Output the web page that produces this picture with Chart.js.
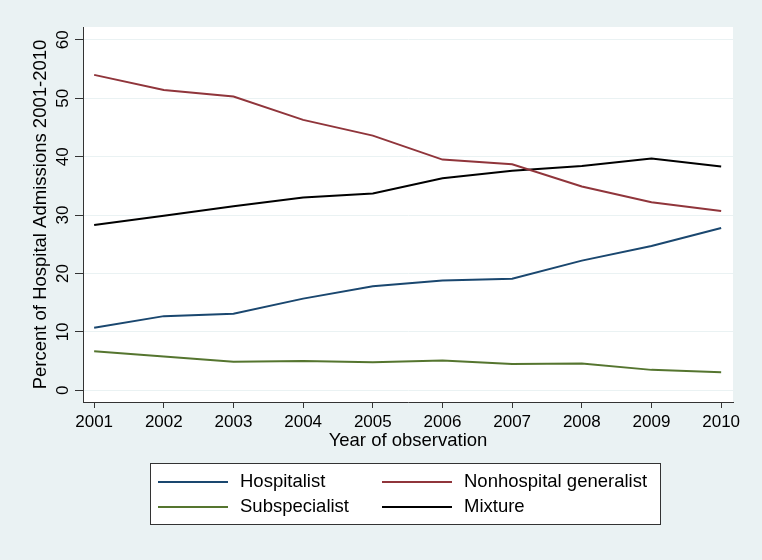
<!DOCTYPE html>
<html>
<head>
<meta charset="utf-8">
<title>Hospital admissions by physician type</title>
<script src="https://cdn.jsdelivr.net/npm/chart.js@4/dist/chart.umd.min.js"></script>
<style>
    html, body { margin: 0; padding: 0; background: #EAF2F3; }
    #wrap { width: 762px; height: 560px; }
</style>
</head>
<body>
<div id="wrap"><canvas id="myChart" width="762" height="560"></canvas></div>
<script>
var years = [2001, 2002, 2003, 2004, 2005, 2006, 2007, 2008, 2009, 2010];
var hospitalist = [10.7, 12.7, 13.1, 15.7, 17.8, 18.8, 19.1, 22.2, 24.7, 27.8];
var nonhospital = [54.0, 51.4, 50.3, 46.3, 43.6, 39.5, 38.7, 34.9, 32.2, 30.7];
var subspecialist = [6.7, 5.8, 4.9, 5.0, 4.8, 5.1, 4.5, 4.6, 3.5, 3.1];
var mixture = [28.3, 29.9, 31.5, 33.0, 33.7, 36.3, 37.6, 38.4, 39.7, 38.3];
var yTicks = [0, 10, 20, 30, 40, 50, 60];

var fontFamily = "'Liberation Sans', Arial, Helvetica, sans-serif";
Chart.defaults.font.family = fontFamily;
Chart.defaults.font.size = 17;
Chart.defaults.color = '#000';

// stata-ish background: grey-blue outside, white plot region
var backgroundPlugin = {
    id: 'stataBackground',
    beforeDraw: function (chart) {
        var ctx = chart.ctx;
        var a = chart.chartArea;
        ctx.save();
        ctx.fillStyle = '#EAF2F3';
        ctx.fillRect(0, 0, chart.width, chart.height);
        ctx.fillStyle = '#ffffff';
        ctx.fillRect(a.left, a.top, a.right - a.left, a.bottom - a.top);
        ctx.restore();
    }
};

// y tick labels are rotated, reading bottom to top
var yLabelPlugin = {
    id: 'yLabels',
    afterDraw: function (chart) {
        var ctx = chart.ctx;
        var scale = chart.scales.y;
        ctx.save();
        ctx.fillStyle = '#000';
        ctx.font = '17px ' + fontFamily;
        ctx.textAlign = 'center';
        ctx.textBaseline = 'alphabetic';
        scale.ticks.forEach(function (t) {
            var py = scale.getPixelForValue(t.value);
            ctx.save();
            ctx.translate(68, py);
            ctx.rotate(-Math.PI / 2);
            ctx.fillText(String(t.value), 0, 0);
            ctx.restore();
        });
        ctx.restore();
    }
};

// two column legend in a boxed frame
var legendPlugin = {
    id: 'boxLegend',
    afterDraw: function (chart) {
        var ctx = chart.ctx;
        var sets = chart.data.datasets;
        var colX = [158, 382];
        var rowY = [482, 507];
        ctx.save();
        ctx.fillStyle = '#ffffff';
        ctx.fillRect(150, 463, 510, 61);
        ctx.strokeStyle = '#333';
        ctx.lineWidth = 1;
        ctx.strokeRect(150.5, 463.5, 510, 61);
        ctx.font = '18.5px ' + fontFamily;
        ctx.textAlign = 'left';
        ctx.textBaseline = 'middle';
        sets.forEach(function (ds, i) {
            var x = colX[i % 2];
            var y = rowY[Math.floor(i / 2)];
            ctx.strokeStyle = ds.borderColor;
            ctx.lineWidth = 2;
            ctx.beginPath();
            ctx.moveTo(x, y);
            ctx.lineTo(x + 70, y);
            ctx.stroke();
            ctx.fillStyle = '#000';
            ctx.fillText(ds.label, x + 82, y);
        });
        ctx.restore();
    }
};

function makeSet(label, values, color) {
    return {
        label: label,
        data: values,
        borderColor: color,
        backgroundColor: color,
        borderWidth: 2,
        pointRadius: 0,
        tension: 0,
        fill: false
    };
}

var ctx = document.getElementById('myChart').getContext('2d');
var myLineChart = new Chart(ctx, {
    type: 'line',
    data: {
        labels: years,
        datasets: [
            makeSet('Hospitalist', hospitalist, '#1A476F'),
            makeSet('Nonhospital generalist', nonhospital, '#90353B'),
            makeSet('Subspecialist', subspecialist, '#55752F'),
            makeSet('Mixture', mixture, '#000000')
        ]
    },
    options: {
        responsive: false,
        animation: false,
        layout: {
            padding: { top: 27, right: 29, bottom: 108, left: 0 }
        },
        plugins: {
            legend: { display: false },
            tooltip: { enabled: false }
        },
        scales: {
            x: {
                type: 'linear',
                min: 2000.84,
                max: 2010.17,
                afterBuildTicks: function (scale) {
                    scale.ticks = years.map(function (v) { return { value: v }; });
                },
                afterFit: function (scale) {
                    scale.height = 50;
                },
                ticks: {
                    padding: 4,
                    maxRotation: 0,
                    callback: function (v) { return String(v); }
                },
                grid: {
                    drawOnChartArea: false,
                    tickLength: 6,
                    tickColor: '#333'
                },
                border: { color: '#333', width: 1 },
                title: {
                    display: true,
                    text: 'Year of observation',
                    padding: { top: 0, bottom: 0 },
                    font: { size: 18.5 }
                }
            },
            y: {
                min: -2,
                max: 62.2,
                afterBuildTicks: function (scale) {
                    scale.ticks = yTicks.map(function (v) { return { value: v }; });
                },
                afterFit: function (scale) {
                    scale.width = 83;
                },
                ticks: { display: false },
                grid: {
                    color: '#EAF2F3',
                    lineWidth: 1,
                    tickLength: 8,
                    tickColor: '#333'
                },
                border: { color: '#333', width: 1 },
                title: {
                    display: true,
                    text: 'Percent of Hospital Admissions 2001-2010',
                    padding: { top: 30, bottom: 0 },
                    font: { size: 18.5 }
                }
            }
        }
    },
    plugins: [backgroundPlugin, yLabelPlugin, legendPlugin]
});
</script>
</body>
</html>
